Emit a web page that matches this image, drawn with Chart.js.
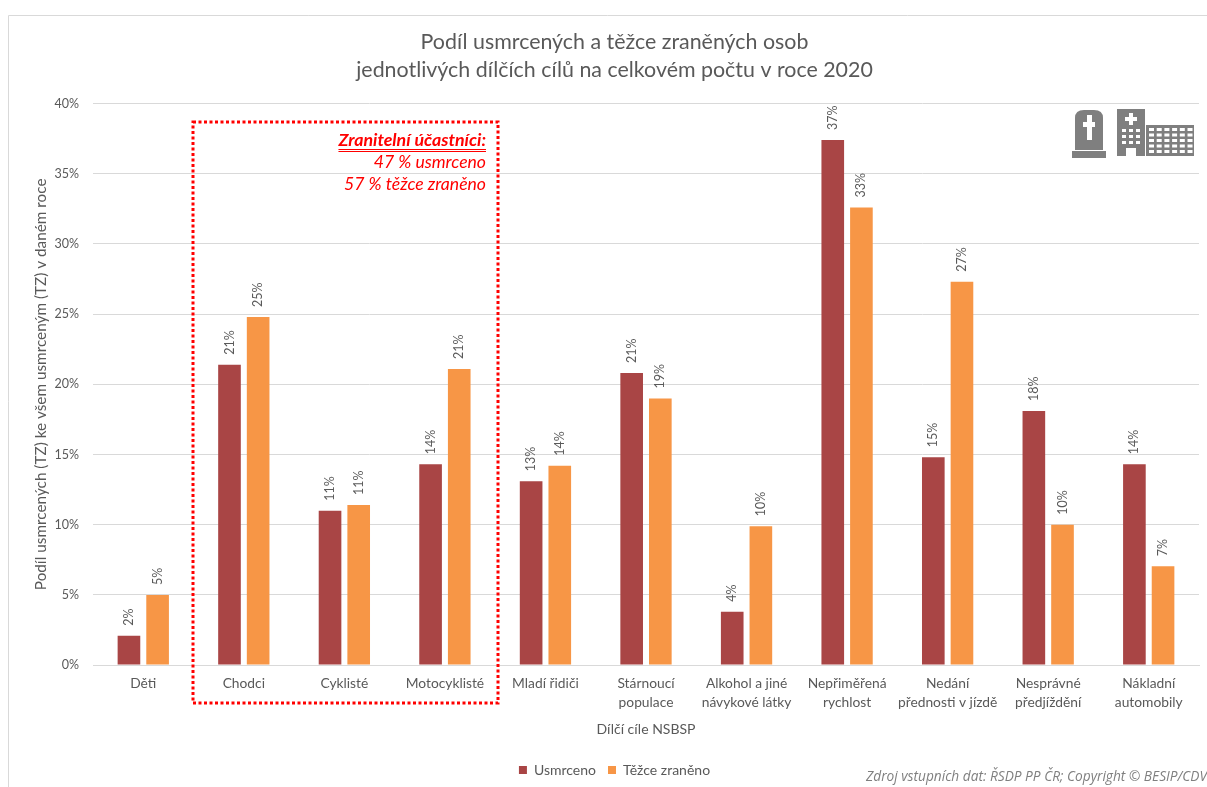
<!DOCTYPE html>
<html>
<head>
<meta charset="utf-8">
<script src="https://cdn.jsdelivr.net/npm/chart.js@4"></script>
<style>
html, body { margin: 0; padding: 0; background: #fff; }
#wrap { position: relative; width: 1207px; height: 787px; }
</style>
</head>
<body>
<div id="wrap"><canvas id="chart" width="1207" height="787"></canvas></div>
<script>
const categories = [
    'Děti', 'Chodci', 'Cyklisté', 'Motocyklisté', 'Mladí řidiči',
    ['Stárnoucí', 'populace'], ['Alkohol a jiné', 'návykové látky'],
    ['Nepřiměřená', 'rychlost'], ['Nedání', 'přednosti v jízdě'],
    ['Nesprávné', 'předjíždění'], ['Nákladní', 'automobily']
];
const usmrceno = [2.1, 21.4, 11.0, 14.3, 13.1, 20.8, 3.8, 37.4, 14.8, 18.1, 14.3];
const tezce = [5.0, 24.8, 11.4, 21.1, 14.2, 19.0, 9.9, 32.6, 27.3, 10.0, 7.05];
const titleLines = ['Podíl usmrcených a těžce zraněných osob', 'jednotlivých dílčích cílů na celkovém počtu v roce 2020'];
const yTitle = 'Podíl usmrcených (TZ) ke všem usmrceným (TZ) v daném roce';
const xTitle = 'Dílčí cíle NSBSP';
const boxTitle = 'Zranitelní účastníci:';
const boxLines = ['47 % usmrceno', '57 % těžce zraněno'];
const sourceText = 'Zdroj vstupních dat: ŘSDP PP ČR; Copyright © BESIP/CDV';

const FONT = 'Lato, Carlito, sans-serif';
const GREY = '#595959';

// popisky nad sloupci, otocene o 90 stupnu
const barLabels = {
    id: 'barLabels',
    afterDatasetsDraw(chart) {
        const ctx = chart.ctx;
        ctx.save();
        ctx.font = `12.5px ${FONT}`;
        ctx.fillStyle = GREY;
        ctx.textAlign = 'left';
        ctx.textBaseline = 'middle';
        chart.data.datasets.forEach((ds, i) => {
            chart.getDatasetMeta(i).data.forEach((bar, j) => {
                ctx.save();
                ctx.translate(bar.x, bar.y - 10);
                ctx.rotate(-Math.PI / 2);
                ctx.fillText(Math.round(ds.data[j]) + '%', 0, 0);
                ctx.restore();
            });
        });
        ctx.restore();
    }
};

// ramecek grafu, cerveny box a ikonky
const extras = {
    id: 'extras',
    beforeDraw(chart) {
        const ctx = chart.ctx;
        ctx.save();
        ctx.strokeStyle = '#d9d9d9';
        ctx.lineWidth = 1;
        ctx.beginPath();
        ctx.moveTo(8.5, 787);
        ctx.lineTo(8.5, 15.5);
        ctx.lineTo(1207, 15.5);
        ctx.stroke();
        ctx.restore();
    },
    afterDraw(chart) {
        const ctx = chart.ctx;
        ctx.save();
        // box
        ctx.strokeStyle = '#ff0000';
        ctx.lineWidth = 3;
        ctx.setLineDash([3, 2.5]);
        ctx.strokeRect(193, 122, 305, 581);
        ctx.setLineDash([]);
        // text v boxu
        ctx.fillStyle = '#ff0000';
        ctx.textAlign = 'right';
        ctx.textBaseline = 'alphabetic';
        ctx.font = `italic bold 17.8px ${FONT}`;
        ctx.fillText(boxTitle, 486, 146);
        const w = ctx.measureText(boxTitle).width;
        ctx.fillRect(486 - w, 149, w, 1);
        ctx.fillRect(486 - w, 151, w, 1);
        ctx.font = `italic 17.6px ${FONT}`;
        ctx.fillText(boxLines[0], 486, 168);
        ctx.fillText(boxLines[1], 486, 190);
        // zdroj
        ctx.fillStyle = '#7f7f7f';
        ctx.font = `italic 13.7px "Open Sans", ${FONT}`;
        ctx.fillText(sourceText, 1207, 781);
        drawIcons(ctx);
        ctx.restore();
    }
};

function drawIcons(ctx) {
    ctx.fillStyle = '#7f7f7f';
    // nahrobek
    ctx.fillRect(1072, 151, 34, 7);
    ctx.beginPath();
    ctx.moveTo(1075, 150);
    ctx.lineTo(1075, 118);
    ctx.quadraticCurveTo(1075, 110, 1084, 110);
    ctx.lineTo(1094, 110);
    ctx.quadraticCurveTo(1103, 110, 1103, 118);
    ctx.lineTo(1103, 150);
    ctx.closePath();
    ctx.fill();
    // nemocnice
    ctx.fillRect(1117, 109, 28, 47);
    ctx.fillRect(1146, 125, 48, 31);
    ctx.fillStyle = '#fff';
    ctx.fillRect(1087, 115, 5, 25);
    ctx.fillRect(1083, 122, 12, 5);
    ctx.fillRect(1129, 113, 4, 12);
    ctx.fillRect(1125, 117, 12, 4);
    for (let r = 0; r < 3; r++) {
        for (let c = 0; c < 3; c++) {
            ctx.fillRect(1122 + c * 7, 129 + r * 6, 4, 3);
        }
    }
    ctx.fillRect(1126, 148, 10, 8);
    for (let r = 0; r < 5; r++) {
        for (let c = 0; c < 6; c++) {
            ctx.fillRect(1149 + c * 7.7, 128 + r * 5.5, 5, 3);
        }
    }
}

new Chart(document.getElementById('chart'), {
    type: 'bar',
    data: {
        labels: categories,
        datasets: [
            { label: 'Usmrceno', data: usmrceno, backgroundColor: '#a94545' },
            { label: 'Těžce zraněno', data: tezce, backgroundColor: '#f79646' }
        ]
    },
    options: {
        responsive: false,
        animation: false,
        layout: { padding: { left: 30, right: 8, top: 28, bottom: 0 } },
        datasets: { bar: { categoryPercentage: 0.57, barPercentage: 0.79 } },
        plugins: {
            title: {
                display: true,
                text: titleLines,
                color: GREY,
                font: { family: FONT, size: 21.4, weight: 'normal', lineHeight: 1.31 },
                padding: { top: 0, bottom: 19.5 }
            },
            legend: {
                position: 'bottom',
                labels: {
                    color: GREY,
                    font: { family: FONT, size: 14 },
                    boxWidth: 8,
                    boxHeight: 8,
                    padding: 12
                }
            },
            tooltip: { enabled: false }
        },
        scales: {
            x: {
                grid: { display: false },
                border: { color: '#d9d9d9' },
                ticks: {
                    color: GREY,
                    font: { family: FONT, size: 13.8, lineHeight: 1.38 },
                    maxRotation: 0,
                    autoSkip: false,
                    padding: 1
                },
                title: {
                    display: true,
                    text: xTitle,
                    color: GREY,
                    font: { family: FONT, size: 14 },
                    padding: { top: 8, bottom: 13 }
                }
            },
            y: {
                min: 0,
                max: 40,
                grid: { color: '#d9d9d9', drawTicks: false },
                border: { display: false },
                afterFit(scale) { scale.width = 63; },
                ticks: {
                    stepSize: 5,
                    color: GREY,
                    font: { family: FONT, size: 12.5 },
                    padding: 14,
                    callback: v => v + '%'
                },
                title: {
                    display: true,
                    text: yTitle,
                    color: GREY,
                    font: { family: FONT, size: 15.3 },
                    padding: { top: 2, bottom: 4 }
                }
            }
        }
    },
    plugins: [barLabels, extras]
});
</script>
</body>
</html>
